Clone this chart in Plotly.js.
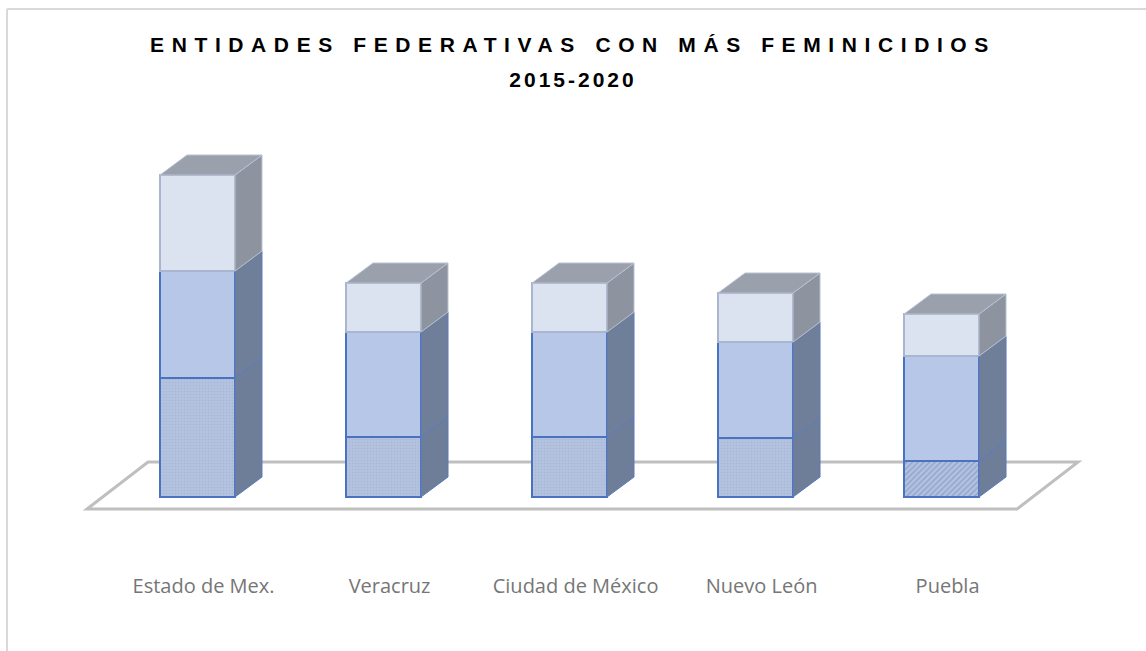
<!DOCTYPE html>
<html>
<head>
<meta charset="utf-8">
<script src="https://cdn.plot.ly/plotly-3.0.1.min.js"></script>
<style>
  html, body { margin: 0; padding: 0; background: #ffffff; }
  #chart { width: 1146px; height: 651px; }
  .infolayer text.gtitle { letter-spacing: 7.6px; }
  .infolayer text[class*="subtitle"] { letter-spacing: 3px; transform: translateY(-10px); }
</style>
</head>
<body>
<div id="chart"></div>
<script>
// ---- data (arbitrary units; no value axis in the original) ----
const categories = ['Estado de Mex.', 'Veracruz', 'Ciudad de México', 'Nuevo León', 'Puebla'];
const serieInferior = [119, 60, 60, 59, 36];
const serieMedia    = [107, 105, 105, 96, 105];
const serieSuperior = [96, 49, 49, 49, 42];
const titleText = 'ENTIDADES FEDERATIVAS CON MÁS FEMINICIDIOS';
const subtitleText = '2015-2020';

// ---- geometry / style ----
const xs = categories.map((_, i) => i);
const W = 0.403;   // front width (x units)
const DX = 0.145;  // depth offset in x units
const DY = 20;     // depth offset in y units

const cum1 = serieInferior.slice();
const cum2 = cum1.map((v, i) => v + serieMedia[i]);
const cum3 = cum2.map((v, i) => v + serieSuperior[i]);

function sidePoly(lo, hi) {
  const X = [], Y = [];
  xs.forEach((x, i) => {
    const xr = x + W / 2;
    X.push(xr, xr + DX, xr + DX, xr, xr, null);
    Y.push(lo[i], lo[i] + DY, hi[i] + DY, hi[i], lo[i], null);
  });
  return {X, Y};
}
function topPoly(top) {
  const X = [], Y = [];
  xs.forEach((x, i) => {
    const xl = x - W / 2, xr = x + W / 2;
    X.push(xl, xl + DX, xr + DX, xr, xl, null);
    Y.push(top[i], top[i] + DY, top[i] + DY, top[i], top[i], null);
  });
  return {X, Y};
}

const zeros = xs.map(() => 0);
const s1 = sidePoly(zeros, cum1);
const s2 = sidePoly(cum1, cum2);
const s3 = sidePoly(cum2, cum3);
const tp = topPoly(cum3);

const blueEdge = '#4a72c0';
const traces = [
  {type: 'bar', x: xs, y: serieInferior, width: W, name: 'inferior',
   marker: {color: '#b1c0dd', line: {color: blueEdge, width: 1.5},
            pattern: {shape: ['.', '.', '.', '.', '/'], fgcolor: ['#a6b6d6', '#a6b6d6', '#a6b6d6', '#a6b6d6', '#8fa3cc'],
                      bgcolor: '#b3c2de', size: [3, 3, 3, 3, 4], solidity: [0.2, 0.2, 0.2, 0.2, 0.35]}},
   hoverinfo: 'skip'},
  {type: 'bar', x: xs, y: serieMedia, width: W, name: 'media',
   marker: {color: '#b6c7e7', line: {color: blueEdge, width: 1.5}}, hoverinfo: 'skip'},
  {type: 'bar', x: xs, y: serieSuperior, width: W, name: 'superior',
   marker: {color: '#dbe2f0', line: {color: '#aab6cf', width: 1.5}}, hoverinfo: 'skip'},
  {type: 'scatter', mode: 'lines', x: s1.X, y: s1.Y, fill: 'toself', fillcolor: '#6f7e98',
   line: {color: '#5b7bbf', width: 1}, hoverinfo: 'skip'},
  {type: 'scatter', mode: 'lines', x: s2.X, y: s2.Y, fill: 'toself', fillcolor: '#707f99',
   line: {color: '#5b7bbf', width: 1}, hoverinfo: 'skip'},
  {type: 'scatter', mode: 'lines', x: s3.X, y: s3.Y, fill: 'toself', fillcolor: '#8e949f',
   line: {color: '#b9c1d2', width: 1}, hoverinfo: 'skip'},
  {type: 'scatter', mode: 'lines', x: tp.X, y: tp.Y, fill: 'toself', fillcolor: '#9aa0ac',
   line: {color: '#b9c1d2', width: 1}, hoverinfo: 'skip'}
];

// floor (platform) outline
const n = categories.length;
const floorL = -0.594, floorR = n - 1 + 0.406, floorDX = 0.328, floorFront = -12, floorBack = 35;
const floorPath = `M ${floorL} ${floorFront} L ${floorL + floorDX} ${floorBack} L ${floorR + floorDX} ${floorBack} L ${floorR} ${floorFront} Z`;

const FH = 651, PB = 79, PH = FH - PB;
const titleFont = {family: 'Liberation Sans, Arial, sans-serif', size: 21, color: '#000000', weight: 700};
const layout = {
  width: 1146, height: 651,
  margin: {l: 0, r: 0, t: 0, b: PB, pad: 0},
  paper_bgcolor: '#ffffff', plot_bgcolor: 'rgba(0,0,0,0)',
  showlegend: false,
  barmode: 'stack',
  title: {
    text: titleText,
    font: titleFont,
    x: 0.5, xanchor: 'center', xref: 'paper',
    y: 1 - 45 / FH, yanchor: 'middle', yref: 'container',
    subtitle: {text: subtitleText, font: titleFont}
  },
  xaxis: {
    range: [-1.062, 5.099], tickvals: xs, ticktext: categories,
    showgrid: false, zeroline: false, showline: false, ticks: '',
    tickfont: {family: 'Open Sans, sans-serif', size: 20, color: '#767676'},
    ticklabelshift: 6, fixedrange: true
  },
  yaxis: {range: [-75, 497], visible: false, showgrid: false, zeroline: false, fixedrange: true},
  shapes: [
    {type: 'path', xref: 'x', yref: 'y', path: floorPath, layer: 'below',
     line: {color: '#bfbfbf', width: 3}},
    {type: 'line', xref: 'paper', yref: 'paper', x0: 7 / 1146, x1: 1, y0: 1 - 9 / PH, y1: 1 - 9 / PH,
     line: {color: '#d9d9d9', width: 2}},
    {type: 'line', xref: 'paper', yref: 'paper', x0: 7 / 1146, x1: 7 / 1146, y0: 1 - 9 / PH, y1: -PB / PH,
     line: {color: '#d9d9d9', width: 2}}
  ]
};

Plotly.newPlot('chart', traces, layout, {displayModeBar: false, staticPlot: true});
</script>
</body>
</html>
